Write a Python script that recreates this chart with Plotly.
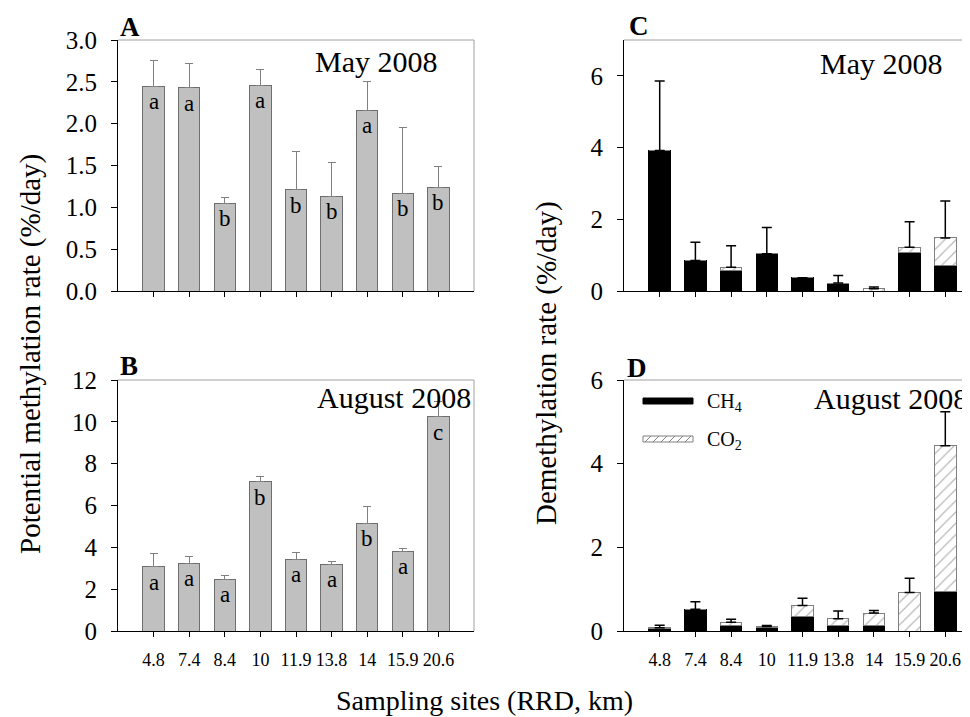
import plotly.graph_objects as go

# ---------------- data ----------------
sites = ["4.8", "7.4", "8.4", "10", "11.9", "13.8", "14", "15.9", "20.6"]

# Panel A: potential methylation, May 2008
meth_may = [2.45, 2.43, 1.05, 2.46, 1.21, 1.13, 2.16, 1.17, 1.24]
meth_may_sd = [0.31, 0.29, 0.07, 0.19, 0.46, 0.41, 0.35, 0.78, 0.25]
meth_may_grp = ["a", "a", "b", "a", "b", "b", "a", "b", "b"]

# Panel B: potential methylation, August 2008
meth_aug = [3.06, 3.23, 2.48, 7.14, 3.42, 3.18, 5.14, 3.81, 10.24]
meth_aug_sd = [0.65, 0.35, 0.19, 0.25, 0.31, 0.16, 0.80, 0.14, 0.71]
meth_aug_grp = ["a", "a", "a", "b", "a", "a", "b", "a", "c"]

# Panel C: demethylation, May 2008
ch4_may = [3.92, 0.85, 0.58, 1.04, 0.37, 0.22, 0.0, 1.06, 0.72]
co2_may = [0.0, 0.0, 0.08, 0.0, 0.0, 0.0, 0.06, 0.16, 0.76]
demeth_may_sd = [1.94, 0.51, 0.60, 0.73, 0.0, 0.21, 0.05, 0.71, 1.03]

# Panel D: demethylation, August 2008
ch4_aug = [0.06, 0.52, 0.12, 0.09, 0.335, 0.13, 0.13, 0.0, 0.94]
co2_aug = [0.02, 0.0, 0.09, 0.02, 0.275, 0.165, 0.30, 0.92, 3.49]
demeth_aug_sd = [0.055, 0.18, 0.07, 0.02, 0.17, 0.185, 0.06, 0.34, 0.81]

# ---------------- styling ----------------
W, H = 970, 717
OFF = 8  # page body margin
FONT = "Liberation Serif"
GRAY_FILL = "#c0c0c0"
GRAY_LINE = "#6e6e6e"
FRAME = "#a0a0a0"
BAR_W = 0.6


def px(x):
    return (x - OFF) / W


def py(y):
    return 1 - (y - OFF) / H


fig = go.Figure()

# Panel A
fig.add_trace(go.Bar(
    x=sites, y=meth_may, width=BAR_W, xaxis="x", yaxis="y",
    marker=dict(color=GRAY_FILL, line=dict(color=GRAY_LINE, width=1)),
    error_y=dict(type="data", array=meth_may_sd, arrayminus=[0] * 9,
                 symmetric=False, color="#808080", thickness=1, width=4),
    showlegend=False,
))
# Panel B
fig.add_trace(go.Bar(
    x=sites, y=meth_aug, width=BAR_W, xaxis="x2", yaxis="y2",
    marker=dict(color=GRAY_FILL, line=dict(color=GRAY_LINE, width=1)),
    error_y=dict(type="data", array=meth_aug_sd, arrayminus=[0] * 9,
                 symmetric=False, color="#808080", thickness=1, width=4),
    showlegend=False,
))

hatch = dict(shape="/", fgcolor="#707070", bgcolor="white", size=8, solidity=0.15)

for ch4, co2, sd, xa, ya in [(ch4_may, co2_may, demeth_may_sd, "x3", "y3"),
                             (ch4_aug, co2_aug, demeth_aug_sd, "x4", "y4")]:
    fig.add_trace(go.Bar(
        x=sites, y=ch4, width=BAR_W, xaxis=xa, yaxis=ya, name="CH4",
        marker=dict(color="black", line=dict(color="black", width=1)),
        showlegend=False,
    ))
    fig.add_trace(go.Bar(
        x=sites, y=co2, width=BAR_W, xaxis=xa, yaxis=ya, name="CO2",
        marker=dict(color="white", line=dict(color="#808080", width=1), pattern=hatch),
        showlegend=False,
    ))
    totals = [a + b for a, b in zip(ch4, co2)]
    fig.add_trace(go.Scatter(
        x=sites, y=totals, xaxis=xa, yaxis=ya, mode="markers",
        marker=dict(size=1, color="rgba(0,0,0,0)"),
        error_y=dict(type="data", array=sd, arrayminus=[0] * 9, symmetric=False,
                     color="black", thickness=1.5, width=5),
        showlegend=False, hoverinfo="skip",
    ))

tickfont = dict(family=FONT, size=25, color="black")
xbase = dict(type="category", showgrid=False, zeroline=False, showline=True,
             linecolor="black", linewidth=1, ticks="outside", ticklen=5,
             tickcolor="black", tickfont=dict(family=FONT, size=18, color="black"),
             ticklabelstandoff=7, automargin=False)
ybase = dict(showgrid=False, zeroline=False, showline=True, linecolor="black",
             linewidth=1, ticks="outside", ticklen=6, tickcolor="black",
             tickfont=tickfont, ticklabelstandoff=9, automargin=False)

dom_left = [px(118), px(474)]
dom_right = [px(624), 1.0]
dom_top = [py(291), py(40)]
dom_bot = [py(631), py(380)]
right_end = -1 + (W + OFF - 624) / 35.7

fig.update_layout(
    width=W, height=H, margin=dict(l=0, r=0, t=0, b=0, autoexpand=False),
    paper_bgcolor="white", plot_bgcolor="white", barmode="stack",
    font=dict(family=FONT, color="black"),
    xaxis=dict(xbase, domain=dom_left, anchor="y", range=[-1, 9], showticklabels=False),
    yaxis=dict(ybase, domain=dom_top, anchor="x", range=[0, 3.0],
               tickvals=[0, 0.5, 1.0, 1.5, 2.0, 2.5, 3.0], tickformat=".1f"),
    xaxis2=dict(xbase, domain=dom_left, anchor="y2", range=[-1, 9]),
    yaxis2=dict(ybase, domain=dom_bot, anchor="x2", range=[0, 12],
                tickvals=[0, 2, 4, 6, 8, 10, 12]),
    xaxis3=dict(xbase, domain=dom_right, anchor="y3", range=[-1, right_end], showticklabels=False),
    yaxis3=dict(ybase, domain=dom_top, anchor="x3", range=[0, 7], tickvals=[0, 2, 4, 6]),
    xaxis4=dict(xbase, domain=dom_right, anchor="y4", range=[-1, right_end]),
    yaxis4=dict(ybase, domain=dom_bot, anchor="x4", range=[0, 6], tickvals=[0, 2, 4, 6]),
)

# frame lines (top / right) in gray
shapes = []
for xr, yr, right in [("x", "y", True), ("x2", "y2", True), ("x3", "y3", False), ("x4", "y4", False)]:
    shapes.append(dict(type="line", xref=f"{xr} domain", yref=f"{yr} domain",
                       x0=0, x1=1, y0=1, y1=1, line=dict(color=FRAME, width=1)))
    if right:
        shapes.append(dict(type="line", xref=f"{xr} domain", yref=f"{yr} domain",
                           x0=1, x1=1, y0=0, y1=1, line=dict(color=FRAME, width=1)))

# legend swatches in panel D
shapes.append(dict(type="rect", xref="paper", yref="paper", x0=px(643), x1=px(693),
                   y0=py(404), y1=py(398), fillcolor="black", line=dict(color="black", width=1)))
shapes.append(dict(type="rect", xref="paper", yref="paper", x0=px(643), x1=px(693),
                   y0=py(442), y1=py(436), fillcolor="white", line=dict(color="#808080", width=1)))
for k in range(6):
    x0 = 645 + k * 8
    shapes.append(dict(type="line", xref="paper", yref="paper", x0=px(x0), x1=px(x0 + 6),
                       y0=py(442), y1=py(436), line=dict(color="#808080", width=1)))
fig.update_layout(shapes=shapes)

ann = []
# significance letters
for grp, vals, xr, yr in [(meth_may_grp, meth_may, "x", "y"), (meth_aug_grp, meth_aug, "x2", "y2")]:
    for i, (v, g) in enumerate(zip(vals, grp)):
        ann.append(dict(x=i, y=v, xref=xr, yref=yr, text=g, showarrow=False,
                        yanchor="top", xanchor="center", yshift=-1,
                        font=dict(family=FONT, size=23, color="black")))

big = dict(family=FONT, size=30, color="black")
ttl = dict(family=FONT, size=29, color="black")
ann += [
    dict(x=px(440), y=py(62), xref="paper", yref="paper", text="May 2008", showarrow=False,
         xanchor="right", yanchor="middle", font=big),
    dict(x=px(473), y=py(397), xref="paper", yref="paper", text="August 2008", showarrow=False,
         xanchor="right", yanchor="middle", font=big),
    dict(x=px(945), y=py(63), xref="paper", yref="paper", text="May 2008", showarrow=False,
         xanchor="right", yanchor="middle", font=big),
    dict(x=px(812), y=py(398), xref="paper", yref="paper", text="August 2008", showarrow=False,
         xanchor="left", yanchor="middle", font=big),
    dict(x=px(30), y=py(354), xref="paper", yref="paper",
         text="Potential methylation rate (%/day)", showarrow=False, textangle=-90,
         xanchor="center", yanchor="middle", font=ttl),
    dict(x=px(546), y=py(363), xref="paper", yref="paper",
         text="Demethylation rate (%/day)", showarrow=False, textangle=-90,
         xanchor="center", yanchor="middle", font=ttl),
    dict(x=px(484), y=py(700), xref="paper", yref="paper",
         text="Sampling sites (RRD, km)", showarrow=False,
         xanchor="center", yanchor="middle", font=dict(family=FONT, size=28, color="black")),
    dict(x=px(705), y=py(402), xref="paper", yref="paper", text="CH<sub>4</sub>",
         showarrow=False, xanchor="left", yanchor="middle",
         font=dict(family=FONT, size=20, color="black")),
    dict(x=px(705), y=py(440), xref="paper", yref="paper", text="CO<sub>2</sub>",
         showarrow=False, xanchor="left", yanchor="middle",
         font=dict(family=FONT, size=20, color="black")),
]
label_font = dict(family=FONT, size=27, color="black")
for t, x, y in [("A", 118, 27), ("B", 118, 366), ("C", 627, 26), ("D", 625, 368)]:
    ann.append(dict(x=px(x), y=py(y), xref="paper", yref="paper", text=f"<b>{t}</b>",
                    showarrow=False, xanchor="left", yanchor="middle", font=label_font))
fig.update_layout(annotations=ann)

fig.write_html("out.html")
